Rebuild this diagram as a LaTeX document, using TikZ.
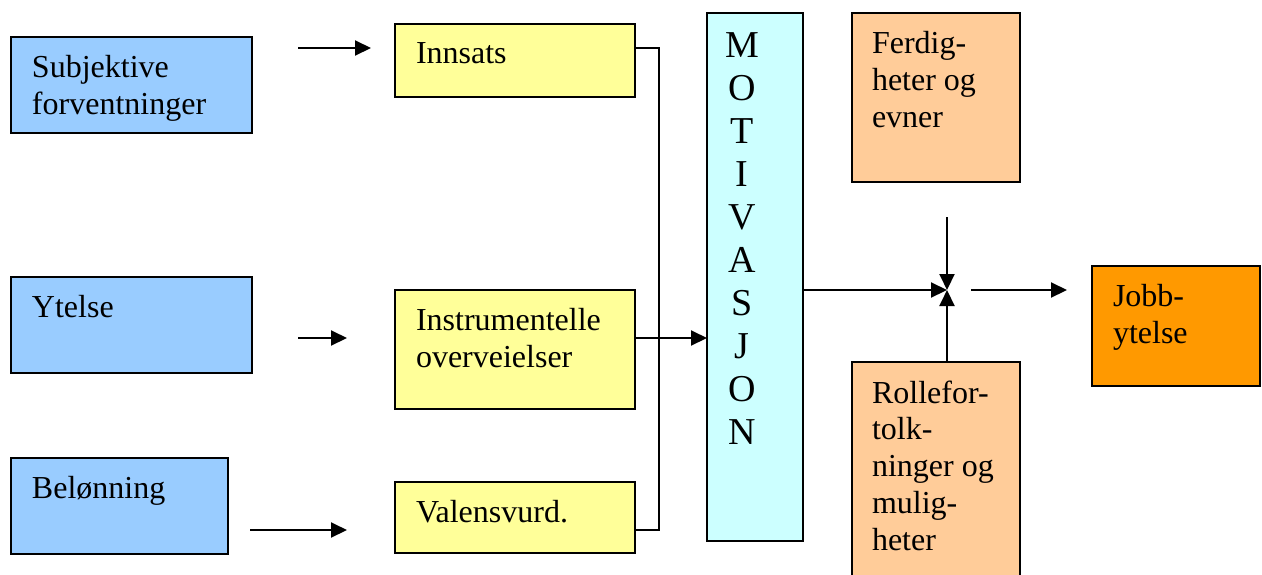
\documentclass[tikz,border=0pt]{standalone}
\usepackage{fontspec}
\setmainfont{Liberation Serif}
\usetikzlibrary{positioning,arrows.meta}

\definecolor{boxblue}{HTML}{99CCFF}
\definecolor{boxyellow}{HTML}{FFFF99}
\definecolor{boxcyan}{HTML}{CCFFFF}
\definecolor{boxpeach}{HTML}{FFCC99}
\definecolor{boxorange}{HTML}{FF9900}

\tikzset{
  box/.style={draw, line width=1pt, inner sep=0pt, outer sep=0pt, anchor=north west},
  txt/.style={inner sep=0pt, outer sep=0pt, align=left,
    font=\fontsize{16}{18.4}\selectfont},
  arr/.style={line width=1pt, -{Triangle[length=8pt,width=7.5pt]}},
}

\begin{document}
\begin{tikzpicture}[x=0.5pt, y=-0.5pt]
  \useasboundingbox (0,0) rectangle (1262,574);
  \clip (0,0) rectangle (1262,574);

  % left column
  \node[box, fill=boxblue, minimum width=120.5pt, minimum height=48pt] (subj) at (11,37) {};
  \node[box, fill=boxblue, minimum width=120.5pt, minimum height=48pt] (ytelse) at (11,277) {};
  \node[box, fill=boxblue, minimum width=108.5pt, minimum height=48pt] (belon) at (11,458) {};
  \node[txt, below right=9.25pt and 10.5pt of subj.north west] (subjtxt) {Subjektive\\forventninger};
  \node[txt, below right=9.25pt and 10.5pt of ytelse.north west] (ytelsetxt) {Ytelse};
  \node[txt, below right=9.25pt and 10.5pt of belon.north west] (belontxt) {Belønning};

  % middle column
  \node[box, fill=boxyellow, minimum width=120pt, minimum height=36.5pt] (innsats) at (395,24) {};
  \node[box, fill=boxyellow, minimum width=120pt, minimum height=59.5pt] (instr) at (395,290) {};
  \node[box, fill=boxyellow, minimum width=120pt, minimum height=35.5pt] (valens) at (395,482) {};
  \node[txt, below right=9.25pt and 10.5pt of innsats.north west] (innsatstxt) {Innsats};
  \node[txt, below right=9.25pt and 10.5pt of instr.north west] (instrtxt) {Instrumentelle\\overveielser};
  \node[txt, below right=9.25pt and 10.5pt of valens.north west] (valenstxt) {Valensvurd.};

  % motivasjon
  \node[box, fill=boxcyan, minimum width=48pt, minimum height=264pt] (mot) at (707,13) {};
  \node[inner sep=0pt, outer sep=0pt, anchor=north, align=center,
    font=\fontsize{19}{21.5}\selectfont] (mottxt) at ([xshift=-6.5pt, yshift=-10pt]mot.north)
    {M\\O\\T\\I\\V\\A\\S\\J\\O\\N};

  % right side
  \node[box, fill=boxpeach, minimum width=84pt, minimum height=84.5pt] (ferdig) at (852,13) {};
  \node[box, fill=boxpeach, minimum width=84pt, minimum height=114pt] (rolle) at (852,362) {};
  \node[box, fill=boxorange, minimum width=84pt, minimum height=60pt] (jobb) at (1092,266) {};
  \node[txt, below right=9.25pt and 10pt of ferdig.north west] (ferdigtxt) {Ferdig-\\heter og\\evner};
  \node[txt, below right=9.25pt and 10pt of rolle.north west] (rolletxt) {Rollefor-\\tolk-\\ninger og\\mulig-\\heter};
  \node[txt, below right=9.25pt and 10.5pt of jobb.north west] (jobbtxt) {Jobb-\\ytelse};

  % connectors
  \coordinate (a1) at (298,48);
  \coordinate (a2) at (371,48);
  \coordinate (b1) at (298,338);
  \coordinate (b2) at (347,338);
  \coordinate (c1) at (250,530);
  \coordinate (c2) at (347,530);
  \draw[arr] (a1) -- (a2);
  \draw[arr] (b1) -- (b2);
  \draw[arr] (c1) -- (c2);

  \coordinate (busTop) at (659,48);
  \coordinate (busBot) at (659,530);
  \draw[line width=1pt] (innsats.east |- busTop) -- (busTop) -- (busBot) -- (valens.east |- busBot);
  \draw[arr] (instr.east |- b1) -- (mot.west |- b1);

  \coordinate (jn) at (947,290);
  \coordinate (ferdOut) at (947,217);
  \coordinate (outStart) at (971,290);
  \coordinate (outEnd) at (1067,290);
  \draw[arr] (mot.east |- jn) -- (jn);
  \draw[arr] (ferdOut) -- (jn);
  \draw[arr] (rolle.north -| jn) -- (jn);
  \draw[arr] (outStart) -- (outEnd);
\end{tikzpicture}
\end{document}
